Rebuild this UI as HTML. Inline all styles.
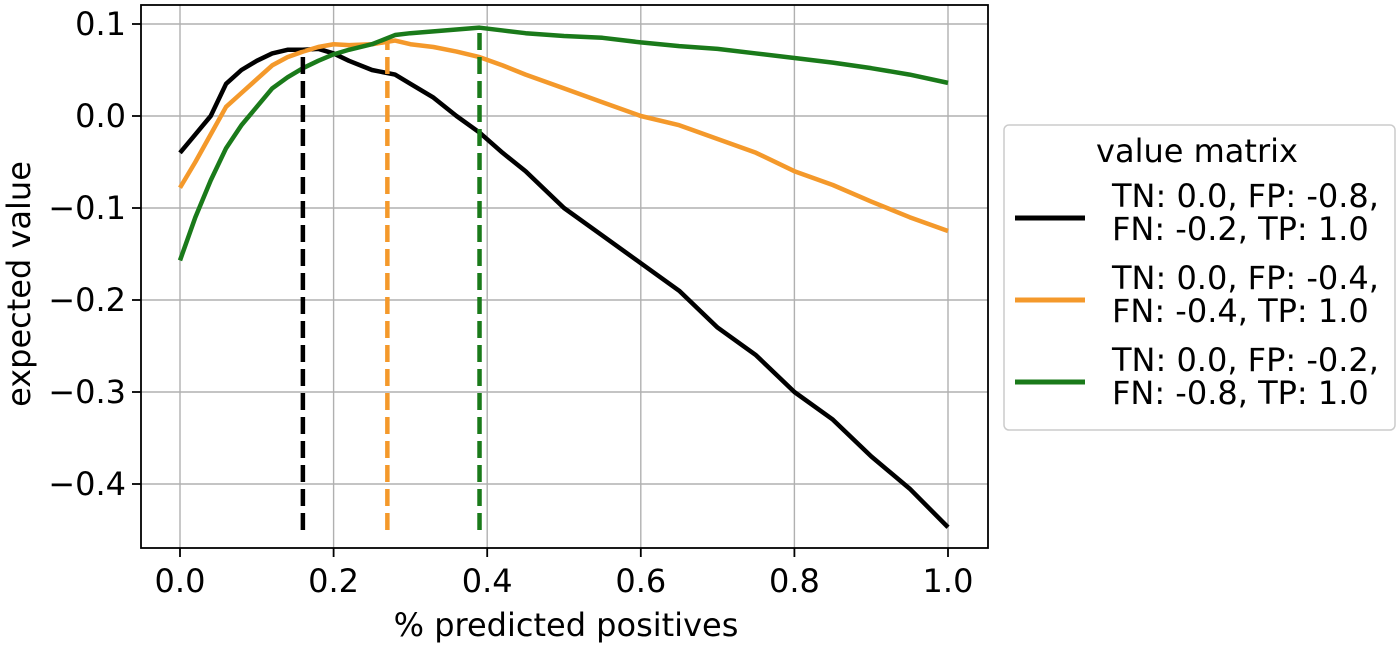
<!DOCTYPE html>
<html><head><meta charset="utf-8"><style>
body{margin:0;background:#fff;}
svg text{font-family:"DejaVu Sans","Liberation Sans",sans-serif;fill:#000;}
</style></head><body>
<svg id="chart" width="1400" height="645" xmlns="http://www.w3.org/2000/svg">
<g id="grid"></g>
<g id="series"></g>
<rect x="141" y="5" width="847" height="543" fill="none" stroke="#000" stroke-width="1.8"/>
<g id="ticks"></g>
<text x="566" y="636" font-size="32" text-anchor="middle">% predicted positives</text>
<text transform="translate(30,284) rotate(-90)" font-size="32" text-anchor="middle">expected value</text>
<g>
<rect x="1004" y="125" width="391" height="305" rx="5" fill="#fff" stroke="#ccc" stroke-width="1.5"/>
<text x="1197" y="162" font-size="32" text-anchor="middle">value matrix</text>
<g><line x1="1015" y1="218" x2="1085" y2="218" stroke="#000" stroke-width="5"/><text x="1112" y="207" font-size="32">TN: 0.0, FP: -0.8,</text><text x="1112" y="240" font-size="32">FN: -0.2, TP: 1.0</text></g>
<g><line x1="1015" y1="300" x2="1085" y2="300" stroke="#f4992b" stroke-width="5"/><text x="1112" y="289" font-size="32">TN: 0.0, FP: -0.4,</text><text x="1112" y="322" font-size="32">FN: -0.4, TP: 1.0</text></g>
<g><line x1="1015" y1="382" x2="1085" y2="382" stroke="#1a7a1a" stroke-width="5"/><text x="1112" y="371" font-size="32">TN: 0.0, FP: -0.2,</text><text x="1112" y="404" font-size="32">FN: -0.8, TP: 1.0</text></g>
</g>
</svg>
<script>
const xTicks=[0.0,0.2,0.4,0.6,0.8,1.0];
const yTicks=[0.1,0.0,-0.1,-0.2,-0.3,-0.4];
const xs=[0,0.02,0.04,0.06,0.08,0.1,0.12,0.14,0.16,0.18,0.2,0.22,0.25,0.28,0.3,0.33,0.36,0.39,0.42,0.45,0.5,0.55,0.6,0.65,0.7,0.75,0.8,0.85,0.9,0.95,1.0];
const blackVals=[-0.04,-0.02,0.0,0.035,0.05,0.06,0.068,0.072,0.072,0.073,0.068,0.06,0.05,0.045,0.035,0.02,0.0,-0.018,-0.04,-0.06,-0.1,-0.13,-0.16,-0.19,-0.23,-0.26,-0.3,-0.33,-0.37,-0.405,-0.447];
const orangeVals=[-0.078,-0.05,-0.02,0.01,0.025,0.04,0.055,0.064,0.07,0.075,0.078,0.077,0.078,0.082,0.078,0.075,0.07,0.064,0.055,0.045,0.03,0.015,0.0,-0.01,-0.025,-0.04,-0.06,-0.075,-0.093,-0.11,-0.125];
const greenVals=[-0.157,-0.11,-0.07,-0.035,-0.01,0.01,0.03,0.042,0.052,0.06,0.067,0.072,0.078,0.088,0.09,0.092,0.094,0.096,0.093,0.09,0.087,0.085,0.08,0.076,0.073,0.068,0.063,0.058,0.052,0.045,0.036];
const optX=[0.16,0.27,0.39];
const optY=[0.072,0.08,0.096];
const colors=['#000','#f4992b','#1a7a1a'];
const X=v=>180+v*768, Y=v=>116-v*920;
const NS='http://www.w3.org/2000/svg';
function mk(t,a,p){const e=document.createElementNS(NS,t);for(const k in a)e.setAttribute(k,a[k]);p.appendChild(e);return e;}
const grid=document.getElementById('grid'),ticks=document.getElementById('ticks'),ser=document.getElementById('series');
xTicks.forEach(v=>{
 const g=mk('line',{x1:X(v),x2:X(v),y1:5,y2:548,stroke:'#b0b0b0','stroke-width':1.4},grid);
 
 
 const t=mk('line',{x1:X(v),x2:X(v),y1:548,y2:557,stroke:'#000','stroke-width':1.8},ticks);
 
 
 const l=mk('text',{x:X(v),y:592,'font-size':32,'text-anchor':'middle'},ticks);l.textContent=v.toFixed(1);
 
 
});
yTicks.forEach(v=>{
 const g=mk('line',{x1:141,x2:988,y1:Y(v),y2:Y(v),stroke:'#b0b0b0','stroke-width':1.4},grid);
 
 
 const t=mk('line',{x1:132,x2:141,y1:Y(v),y2:Y(v),stroke:'#000','stroke-width':1.8},ticks);
 
 
 const l=mk('text',{x:126,y:Y(v)+11,'font-size':32,'text-anchor':'end'},ticks);l.textContent=(v<0?'\u2212':'')+Math.abs(v).toFixed(1);
 
 
});
[blackVals,orangeVals,greenVals].forEach((vals,i)=>{
 const p=mk('polyline',{points:xs.map((x,j)=>X(x)+','+Y(vals[j])).join(' '),fill:'none',stroke:colors[i],'stroke-width':4.5,'stroke-linejoin':'round'},ser);
 
 
});
optX.forEach((x,i)=>{
 const d=mk('line',{x1:X(x),x2:X(x),y1:Y(-0.45),y2:Y(optY[i]),stroke:colors[i],'stroke-width':4.5,'stroke-dasharray':'17,7'},ser);
 
 
});
</script>
</body></html>
